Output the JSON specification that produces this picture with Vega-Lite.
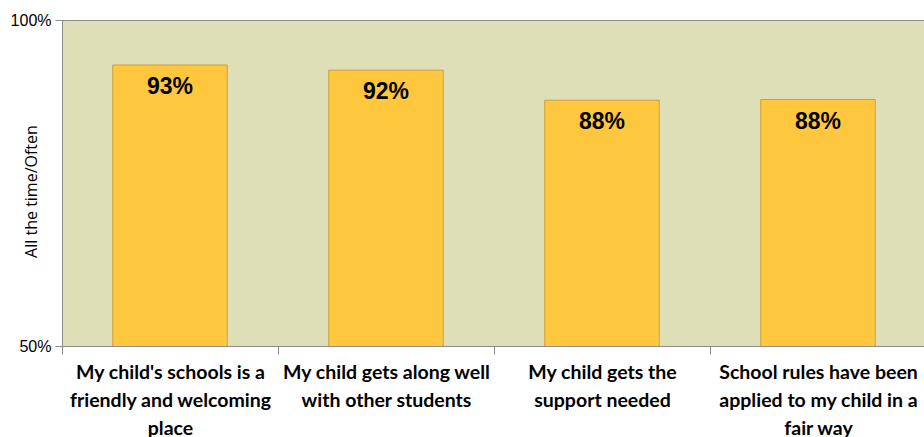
{
  "$schema": "https://vega.github.io/schema/vega-lite/v6.json",
  "width": 864,
  "height": 326,
  "autosize": {"type": "none"},
  "padding": {"left": 62, "top": 20, "right": 0, "bottom": 91},
  "background": "white",
  "config": {
    "view": {"fill": "#DFDFB7", "stroke": "#8C8C8C", "strokeWidth": 1}
  },
  "data": {
    "values": [
      {"item": "My child's schools is a|friendly and welcoming|place", "pct": 0.931, "order": 1},
      {"item": "My child gets along well|with other students", "pct": 0.923, "order": 2},
      {"item": "My child gets the|support needed", "pct": 0.877, "order": 3},
      {"item": "School rules have been|applied to my child in a|fair way", "pct": 0.878, "order": 4}
    ]
  },
  "encoding": {
    "x": {
      "field": "item",
      "type": "nominal",
      "sort": {"field": "order"},
      "scale": {"paddingInner": 0, "paddingOuter": 0},
      "axis": {
        "title": null,
        "labelAngle": 0,
        "labelExpr": "split(datum.label, '|')",
        "labelFont": "Lato",
        "labelFontWeight": "bold",
        "labelFontSize": 19.5,
        "labelColor": "#000000",
        "labelLineHeight": 28,
        "labelPadding": 9,
        "labelLimit": 400,
        "tickBand": "extent",
        "tickSize": 8,
        "tickColor": "#8C8C8C",
        "domainColor": "#8C8C8C"
      }
    }
  },
  "layer": [
    {
      "mark": {"type": "bar", "clip": true, "width": {"band": 0.53}, "fill": "#FFC73D", "stroke": "#C9A042", "strokeWidth": 1},
      "encoding": {
        "y": {
          "field": "pct",
          "type": "quantitative",
          "scale": {"domain": [0.5, 1]},
          "axis": {
            "values": [0.5, 1],
            "format": ".0%",
            "title": "All the time/Often",
            "titleFont": "Open Sans",
            "titleFontWeight": "normal",
            "titleFontSize": 16,
            "titleColor": "#000000",
            "titleX": -31,
            "titleY": 171,
            "titleAngle": -90,
            "titleAlign": "center",
            "titleBaseline": "middle",
            "labelFont": "Arial",
            "labelFontSize": 16,
            "labelColor": "#000000",
            "labelPadding": 4,
            "tickSize": 7,
            "tickColor": "#8C8C8C",
            "domainColor": "#8C8C8C",
            "grid": false
          }
        }
      }
    },
    {
      "mark": {"type": "text", "baseline": "top", "dy": 11, "font": "Arial", "fontWeight": "bold", "fontSize": 23, "color": "#000000"},
      "encoding": {
        "y": {"field": "pct", "type": "quantitative"},
        "text": {"field": "pct", "type": "quantitative", "format": ".0%"}
      }
    }
  ]
}
